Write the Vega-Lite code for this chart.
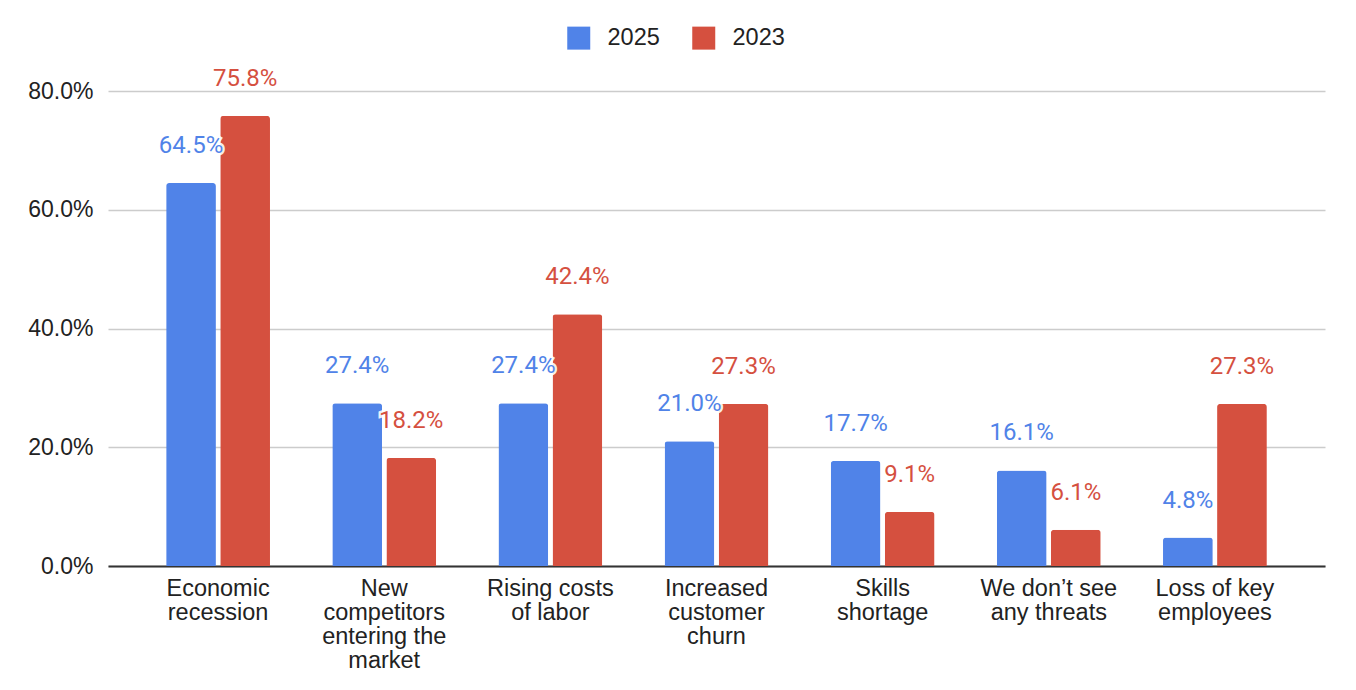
{
  "$schema": "https://vega.github.io/schema/vega-lite/v6.json",
  "width": 1217,
  "height": 475,
  "autosize": "none",
  "padding": {"left": 108, "top": 91, "right": 31, "bottom": 124},
  "background": "white",
  "config": {"view": {"stroke": null}},
  "data": {
    "values": [
      {"cat": "Economic|recession", "year": "2025", "value": 0.645},
      {"cat": "Economic|recession", "year": "2023", "value": 0.758},
      {"cat": "New|competitors|entering the|market", "year": "2025", "value": 0.274},
      {"cat": "New|competitors|entering the|market", "year": "2023", "value": 0.182},
      {"cat": "Rising costs|of labor", "year": "2025", "value": 0.274},
      {"cat": "Rising costs|of labor", "year": "2023", "value": 0.424},
      {"cat": "Increased|customer|churn", "year": "2025", "value": 0.21},
      {"cat": "Increased|customer|churn", "year": "2023", "value": 0.273},
      {"cat": "Skills|shortage", "year": "2025", "value": 0.177},
      {"cat": "Skills|shortage", "year": "2023", "value": 0.091},
      {"cat": "We don’t see|any threats", "year": "2025", "value": 0.161},
      {"cat": "We don’t see|any threats", "year": "2023", "value": 0.061},
      {"cat": "Loss of key|employees", "year": "2025", "value": 0.048},
      {"cat": "Loss of key|employees", "year": "2023", "value": 0.273}
    ]
  },
  "encoding": {
    "x": {
      "field": "cat",
      "type": "nominal",
      "sort": null,
      "title": null,
      "scale": {"paddingInner": 0.375, "paddingOuter": 0.35},
      "axis": {
        "labelExpr": "split(datum.value, '|')",
        "labelAngle": 0,
        "labelFont": "Liberation Sans",
        "labelFontSize": 23.5,
        "labelColor": "#222222",
        "labelLineHeight": 24,
        "labelPadding": 10,
        "labelLimit": 300,
        "ticks": false,
        "domainColor": "#333333",
        "domainWidth": 2,
        "grid": false
      }
    },
    "xOffset": {
      "field": "year",
      "type": "nominal",
      "sort": ["2025", "2023"],
      "scale": {"paddingInner": 0.08}
    },
    "y": {
      "field": "value",
      "type": "quantitative",
      "title": null,
      "scale": {"domain": [0, 0.8]},
      "axis": {
        "format": ".1%",
        "values": [0, 0.2, 0.4, 0.6, 0.8],
        "labelFont": "Liberation Sans",
        "labelFontSize": 23,
        "labelColor": "#222222",
        "labelPadding": 15,
        "ticks": false,
        "domain": false,
        "gridColor": "#cccccc",
        "gridWidth": 1.3
      }
    },
    "color": {
      "field": "year",
      "type": "nominal",
      "sort": ["2025", "2023"],
      "scale": {"domain": ["2025", "2023"], "range": ["#5083e8", "#d5503f"]},
      "legend": {
        "title": null,
        "orient": "none",
        "direction": "horizontal",
        "legendX": 459,
        "legendY": -65,
        "symbolType": "square",
        "symbolSize": 529,
        "symbolStrokeWidth": 0,
        "labelFont": "Liberation Sans",
        "labelFontSize": 23.5,
        "labelColor": "#222222",
        "labelOffset": 17,
        "columnPadding": 32
      }
    }
  },
  "layer": [
    {
      "mark": {"type": "bar", "cornerRadiusTopLeft": 3, "cornerRadiusTopRight": 3}
    },
    {
      "mark": {"type": "text", "dy": -37, "font": "Roboto", "fontSize": 24, "stroke": "white", "strokeWidth": 5, "strokeOpacity": 0.9},
      "encoding": {"text": {"field": "value", "type": "quantitative", "format": ".1%"}, "color": {"value": "white"}}
    },
    {
      "mark": {"type": "text", "dy": -37, "font": "Roboto", "fontSize": 24},
      "encoding": {"text": {"field": "value", "type": "quantitative", "format": ".1%"}}
    }
  ]
}
